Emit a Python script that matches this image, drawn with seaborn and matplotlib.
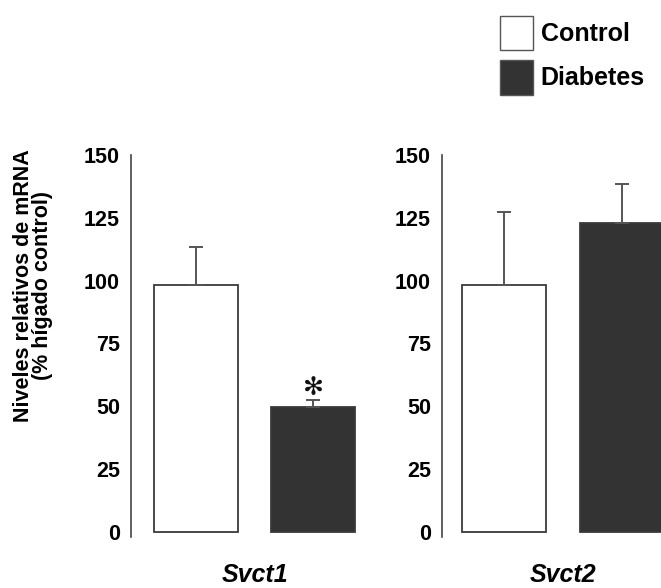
import matplotlib
matplotlib.use("Agg")
import matplotlib.pyplot as plt
import seaborn as sns
import pandas as pd
from matplotlib.patches import Patch

# Datos
genes = ["Svct1", "Svct2"]
grupos = ["Control", "Diabetes"]
valores_svct1 = [98.4, 49.7]
errores_svct1 = [15.1, 2.9]
valores_svct2 = [98.4, 123.1]
errores_svct2 = [28.8, 15.5]
asteriscos_svct1 = ["", "✻"]
ticks_y = [0, 25, 50, 75, 100, 125, 150]

colores = {"Control": "white", "Diabetes": "#333333"}
borde = "#3a3a3a"

sns.set_theme(style="white")
plt.rcParams["font.family"] = ["Liberation Sans", "DejaVu Sans"]
plt.rcParams["font.weight"] = "bold"
plt.rcParams["text.color"] = "black"

W, H = 661, 588
fig = plt.figure(figsize=(W / 100, H / 100), dpi=100)

def caja(x0, x1, y_top, y_bot):
    return [x0 / W, 1 - y_bot / H, (x1 - x0) / W, (y_bot - y_top) / H]

ax1 = fig.add_axes(caja(131, 372, 155, 537))
ax2 = fig.add_axes(caja(442, 681, 155, 537))

paneles = [
    (ax1, genes[0], valores_svct1, errores_svct1, -0.553),
    (ax2, genes[1], valores_svct2, errores_svct2, -0.525),
]

for ax, gen, vals, errs, xmin in paneles:
    df = pd.DataFrame({"grupo": grupos, "valor": vals})
    sns.barplot(data=df, x="grupo", y="valor", hue="grupo", palette=colores,
                width=0.715, edgecolor=borde, linewidth=1.3, errorbar=None,
                legend=False, ax=ax)
    ax.errorbar([0, 1], vals, yerr=[[0, 0], errs], fmt="none",
                ecolor="#555555", elinewidth=1.4, capsize=5, capthick=1.4,
                zorder=1)
    ax.set_xlim(xmin, 1.5)
    ax.set_ylim(-2, 150)
    ax.set_yticks(ticks_y)
    ax.set_xticks([])
    ax.set_xlabel("")
    ax.set_ylabel("")
    for s in ["top", "right", "bottom"]:
        ax.spines[s].set_visible(False)
    ax.spines["left"].set_color("#444444")
    ax.spines["left"].set_linewidth(1.2)
    ax.spines["left"].set_bounds(-2, 150)
    ax.tick_params(axis="y", direction="out", length=5, width=1.2,
                   color="#444444", labelsize=15.5, labelcolor="black", pad=3)
    for t in ax.get_yticklabels():
        t.set_fontweight("bold")
    ax.patch.set_alpha(0)
    ax.text(0.5, -17, gen, ha="center", va="center", fontsize=18,
            fontweight="bold", fontstyle="italic", clip_on=False)

for x, v, e, a in zip([0, 1], valores_svct1, errores_svct1, asteriscos_svct1):
    if a:
        ax1.text(x, v + e + 4.5, a, ha="center", va="center", fontsize=18,
                 fontfamily="DejaVu Sans", color="#111111")

fig.text(0.05, 1 - 286 / H, "Niveles relativos de mRNA\n(% hígado control)",
         rotation=90, ha="center", va="center", fontsize=15.5,
         fontweight="bold", linespacing=0.9)

manijas = [Patch(facecolor=colores[g], edgecolor="#555555", linewidth=1.0)
           for g in grupos]
fig.legend(manijas, grupos, loc="upper left",
           bbox_to_anchor=(482 / W, 1 + 2 / H), frameon=False,
           handlelength=1.35, handleheight=1.75,
           handletextpad=0.3, labelspacing=0.4, borderpad=0.2,
           prop={"weight": "bold", "size": 18})

fig.savefig("out.png", dpi=100)
